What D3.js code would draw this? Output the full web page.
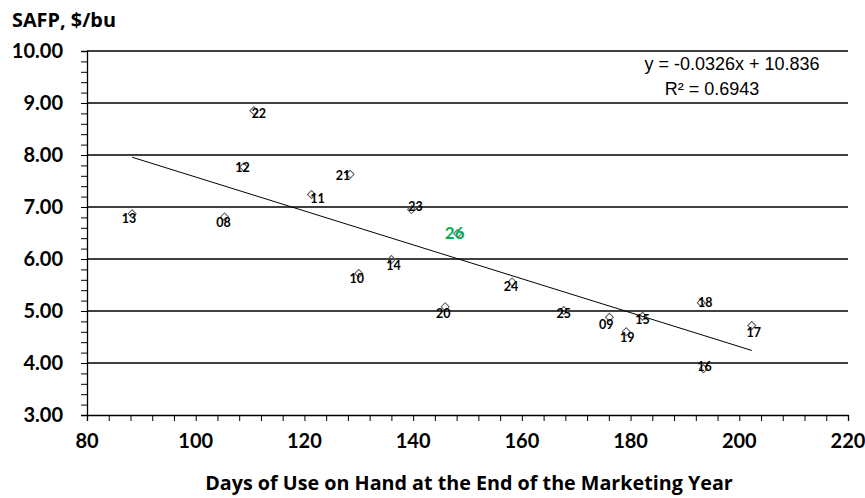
<!DOCTYPE html>
<html>
<head>
<meta charset="utf-8">
<script src="https://cdn.jsdelivr.net/npm/d3@7"></script>
<style>
  body { margin: 0; background: #fff; }
  svg { display: block; }
</style>
</head>
<body>
<div id="chart"></div>
<script>
// marketing years (labels on the points)
var years = ['08','09','10','11','12','13','14','15','16','17','18','19','20','21','22','23','24','25','26'];
// days of use on hand at end of marketing year
var daysOnHand = [105.3, 176.1, 130.0, 121.3, 108.8, 88.3, 136.0, 182.2, 193.4, 202.3, 193.0, 179.2, 145.9, 128.4, 110.7, 139.7, 158.2, 167.7, 148.2];
// season average farm price, $/bu
var safp = [6.81, 4.88, 5.72, 7.24, 7.77, 6.87, 5.99, 4.90, 3.89, 4.72, 5.16, 4.60, 5.08, 7.63, 8.85, 6.95, 5.56, 5.01, 6.49];
// linear trend, as printed on the chart
var trendSlope = -0.0326;
var trendIntercept = 10.836;
var rSquared = 0.6943;
var projectedYear = '26';

var xTicks = [80, 100, 120, 140, 160, 180, 200, 220];
var yTicks = [3, 4, 5, 6, 7, 8, 9, 10];

// little nudges for the point labels (px), like the hand placed excel labels
var labelNudge = {
    '08': [-1, 6], '09': [-3, 7], '10': [-2, 5], '11': [6, 4], '12': [-1, 1],
    '13': [-3, 5], '14': [2, 6], '15': [0, 3], '16': [1, -2], '17': [2, 7],
    '18': [4, 0], '19': [1, 6], '20': [-2, 7], '21': [-7, 1], '22': [5, 3],
    '23': [4, -3], '24': [-1, 5], '25': [0, 3], '26': [-3, -1]
};

var W = 865, H = 498;
var plot = { left: 87, right: 848, top: 51, bottom: 415 };
var boldFont = 'Lato, "Open Sans", sans-serif';
var titleFont = '"Open Sans", Lato, sans-serif';

var svg = d3.select('#chart').append('svg')
    .attr('width', W)
    .attr('height', H);

var x = d3.scaleLinear().domain([80, 220]).range([plot.left, plot.right]);
var y = d3.scaleLinear().domain([3, 10]).range([plot.bottom, plot.top]);

// shrink / grow a text until it has the wanted width
function fitWidth(sel, target) {
    var size = parseFloat(sel.attr('font-size'));
    var w = sel.node().getComputedTextLength();
    if (w > 0) sel.attr('font-size', (size * target / w).toFixed(2));
}

// horizontal gridlines
svg.append('g').selectAll('line')
    .data(yTicks.slice(1))
    .enter().append('line')
    .attr('x1', plot.left)
    .attr('x2', plot.right)
    .attr('y1', function(d) { return y(d); })
    .attr('y2', function(d) { return y(d); })
    .attr('stroke', '#000')
    .attr('stroke-width', 1.3);

// y axis with minor ticks every 0.2
var yAxis = d3.axisLeft(y)
    .tickValues(d3.range(3, 10.001, 0.2))
    .tickSize(6)
    .tickFormat('');
var gy = svg.append('g')
    .attr('transform', 'translate(' + plot.left + ',0)')
    .call(yAxis);
gy.select('.domain').attr('stroke-width', 1.3);
gy.selectAll('.tick line').attr('stroke-width', 1);

svg.append('g').selectAll('text')
    .data(yTicks)
    .enter().append('text')
    .attr('x', 63)
    .attr('y', function(d) { return y(d); })
    .attr('dy', '0.36em')
    .attr('text-anchor', 'end')
    .attr('font-family', boldFont)
    .attr('font-weight', 'bold')
    .attr('font-size', 20)
    .attr('fill', '#000')
    .text(function(d) { return d3.format('.2f')(d); });

// x axis, minor ticks every 4 days
var xAxis = d3.axisBottom(x)
    .tickValues(d3.range(80, 220.001, 4))
    .tickSize(6)
    .tickFormat('');
var gx = svg.append('g')
    .attr('transform', 'translate(0,' + plot.bottom + ')')
    .call(xAxis);
gx.select('.domain').attr('stroke-width', 1.3);
gx.selectAll('.tick line').attr('stroke-width', 1);

svg.append('g').selectAll('text')
    .data(xTicks)
    .enter().append('text')
    .attr('x', function(d) { return x(d); })
    .attr('y', 441)
    .attr('dy', '0.36em')
    .attr('text-anchor', 'middle')
    .attr('font-family', boldFont)
    .attr('font-weight', 'bold')
    .attr('font-size', 20)
    .text(function(d) { return d; });

// axis titles
var yTitle = svg.append('text')
    .attr('x', 12)
    .attr('y', 20)
    .attr('dy', '0.36em')
    .attr('font-family', titleFont)
    .attr('font-weight', 'bold')
    .attr('font-size', 17)
    .text('SAFP, $/bu');
fitWidth(yTitle, 104);

var xTitle = svg.append('text')
    .attr('x', 469)
    .attr('y', 483)
    .attr('dy', '0.36em')
    .attr('text-anchor', 'middle')
    .attr('font-family', titleFont)
    .attr('font-weight', 'bold')
    .attr('font-size', 17)
    .text('Days of Use on Hand at the End of the Marketing Year');
fitWidth(xTitle, 528);

// trend line over the range of the data
var xExt = d3.extent(daysOnHand);
svg.append('line')
    .attr('x1', x(xExt[0]))
    .attr('y1', y(trendSlope * xExt[0] + trendIntercept))
    .attr('x2', x(xExt[1]))
    .attr('y2', y(trendSlope * xExt[1] + trendIntercept))
    .attr('stroke', '#000')
    .attr('stroke-width', 1);

// equation box text
svg.append('text')
    .attr('x', 732)
    .attr('y', 69.5)
    .attr('text-anchor', 'middle')
    .attr('font-family', '"Liberation Sans", Arial, sans-serif')
    .attr('font-size', 18)
    .text('y = ' + trendSlope + 'x + ' + trendIntercept);
svg.append('text')
    .attr('x', 712)
    .attr('y', 95)
    .attr('text-anchor', 'middle')
    .attr('font-family', '"Liberation Sans", Arial, sans-serif')
    .attr('font-size', 18)
    .text('R\u00b2 = ' + rSquared);

// points
var points = years.map(function(yr, i) {
    return { year: yr, days: daysOnHand[i], price: safp[i] };
});

var diamond = d3.symbol().type(d3.symbolSquare).size(32);
svg.append('g').selectAll('path')
    .data(points)
    .enter().append('path')
    .attr('d', diamond)
    .attr('transform', function(d) {
        return 'translate(' + x(d.days) + ',' + y(d.price) + ') rotate(45)';
    })
    .attr('fill', 'none')
    .attr('stroke', '#595959')
    .attr('stroke-width', 1);

svg.append('g').selectAll('text')
    .data(points)
    .enter().append('text')
    .attr('x', function(d) { return x(d.days) + labelNudge[d.year][0]; })
    .attr('y', function(d) { return y(d.price) + labelNudge[d.year][1]; })
    .attr('dy', '0.36em')
    .attr('text-anchor', 'middle')
    .attr('font-family', boldFont)
    .attr('font-weight', 'bold')
    .attr('font-size', function(d) { return d.year === projectedYear ? 17 : 12.5; })
    .attr('fill', function(d) { return d.year === projectedYear ? '#00b050' : '#000'; })
    .text(function(d) { return d.year; });
</script>
</body>
</html>
